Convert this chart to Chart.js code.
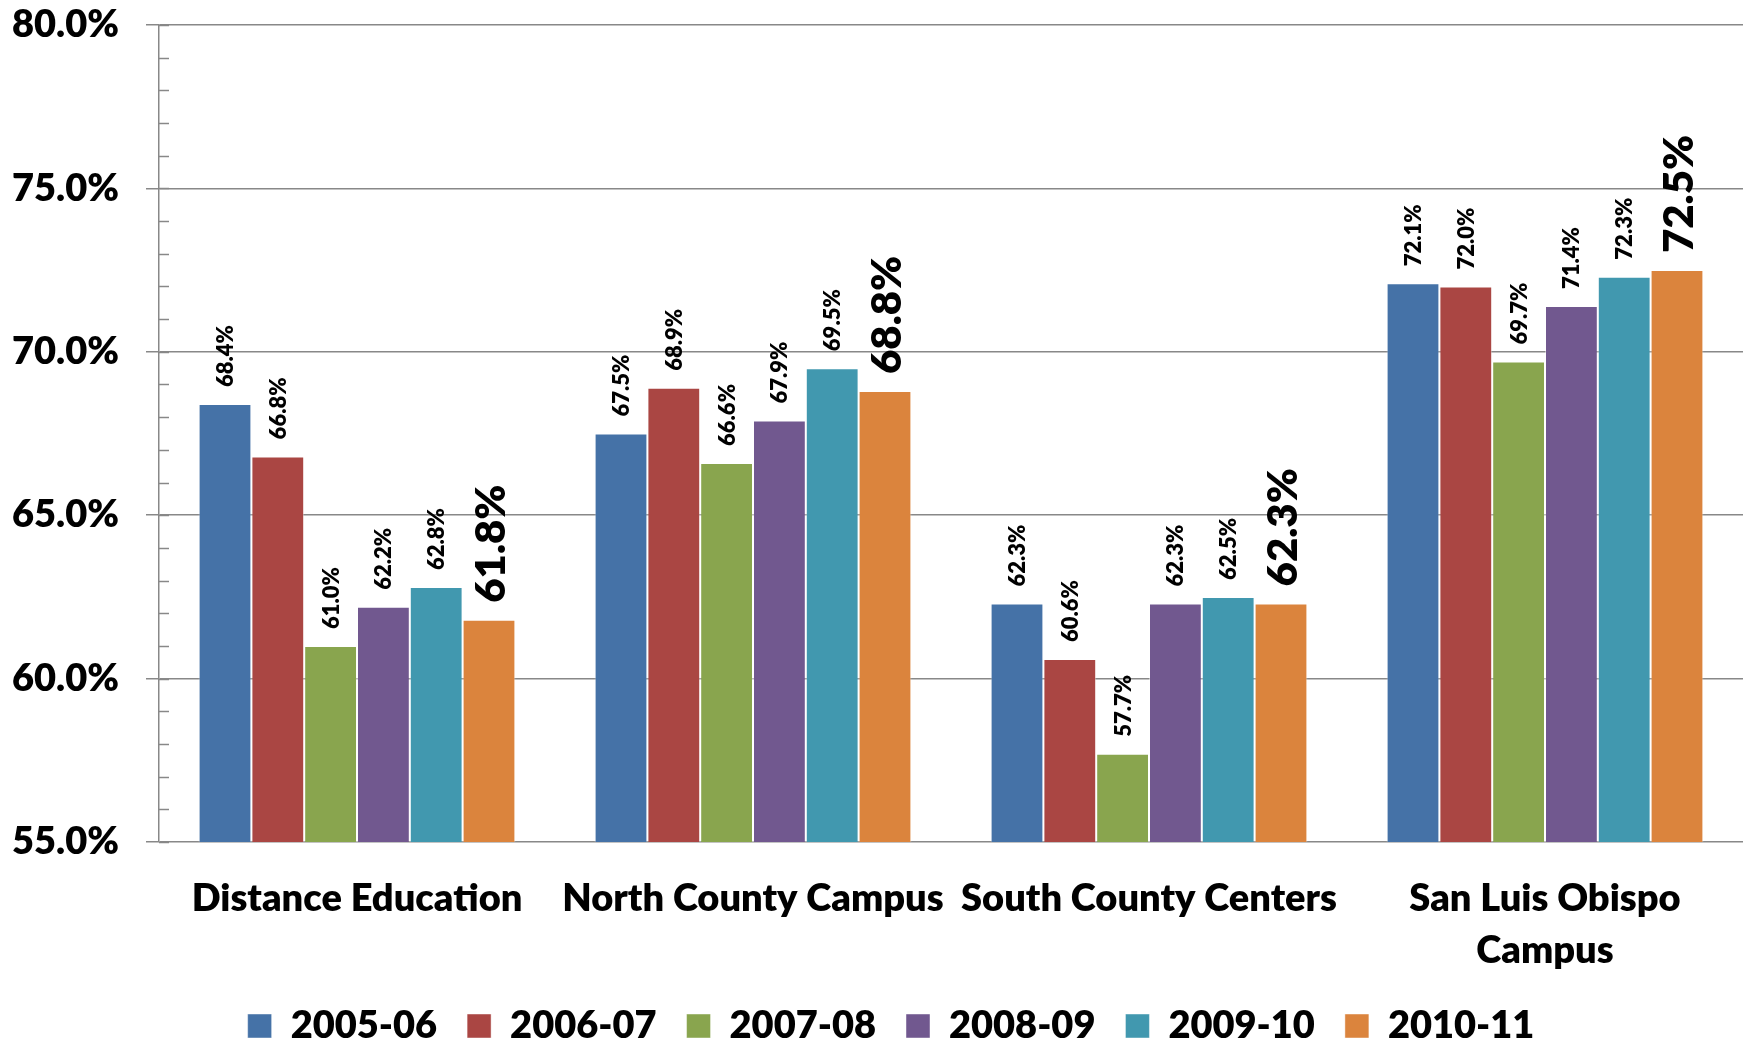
<!DOCTYPE html>
<html>
<head>
<meta charset="utf-8">
<script src="https://cdn.jsdelivr.net/npm/chart.js@4.4.1/dist/chart.umd.min.js"></script>
<style>
  body { margin: 0; background: #fff; }
  #wrap { width: 1747px; height: 1039px; }
</style>
</head>
<body>
<div id="wrap"><canvas id="myChart" width="1747" height="1039"></canvas></div>
<script>
var campuses = ["Distance Education", "North County Campus", "South County Centers", ["San Luis Obispo", "Campus"]];
var years = ["2005-06", "2006-07", "2007-08", "2008-09", "2009-10", "2010-11"];
var rate0506 = [68.4, 67.5, 62.3, 72.1];
var rate0607 = [66.8, 68.9, 60.6, 72.0];
var rate0708 = [61.0, 66.6, 57.7, 69.7];
var rate0809 = [62.2, 67.9, 62.3, 71.4];
var rate0910 = [62.8, 69.5, 62.5, 72.3];
var rate1011 = [61.8, 68.8, 62.3, 72.5];
var yTicks = [55, 60, 65, 70, 75, 80];

var colors = ['#4572A7', '#AA4643', '#89A54E', '#71588F', '#4198AF', '#DB843D'];
var series = [rate0506, rate0607, rate0708, rate0809, rate0910, rate1011];
var gridGray = '#888888';
var heavy = 800;

// rotated value labels above each bar, last year printed larger
var barLabels = {
    id: 'barLabels',
    afterDatasetsDraw: function(chart) {
        var ctx = chart.ctx;
        var last = chart.data.datasets.length - 1;
        chart.data.datasets.forEach(function(ds, i) {
            var meta = chart.getDatasetMeta(i);
            meta.data.forEach(function(bar, j) {
                ctx.save();
                ctx.translate(bar.x + (i === last ? 2 : 1), bar.y - 17);
                ctx.rotate(-Math.PI / 2);
                ctx.font = heavy + ' ' + (i === last ? 42 : 22) + 'px Lato';
                ctx.fillStyle = '#000';
                ctx.textAlign = 'left';
                ctx.textBaseline = 'middle';
                ctx.fillText(ds.data[j].toFixed(1) + '%', 0, 0);
                ctx.restore();
            });
        });
    }
};

// small tick marks every 1% on the inner side of the value axis
var minorTicks = {
    id: 'minorTicks',
    afterDraw: function(chart) {
        var y = chart.scales.y;
        var ctx = chart.ctx;
        ctx.save();
        ctx.strokeStyle = gridGray;
        ctx.lineWidth = 1.5;
        for (var v = y.min; v <= y.max; v++) {
            var py = Math.round(y.getPixelForValue(v)) + 0.5;
            ctx.beginPath();
            ctx.moveTo(y.right, py);
            ctx.lineTo(y.right + 10, py);
            ctx.stroke();
        }
        ctx.restore();
    }
};

// legend sits a little right of the canvas centre in the original
var legendShift = {
    id: 'legendShift',
    afterLayout: function(chart) {
        chart.legend.left += 14;
        chart.legend.right += 14;
    }
};

var config = {
    type: 'bar',
    data: {
        labels: campuses,
        datasets: years.map(function(yr, i) {
            return {
                label: yr,
                data: series[i],
                backgroundColor: colors[i],
                borderColor: 'rgba(255,255,255,0.45)',
                borderWidth: 1,
                barPercentage: 1.0,
                categoryPercentage: 0.8
            };
        })
    },
    options: {
        responsive: false,
        devicePixelRatio: 1,
        animation: false,
        layout: { padding: { left: 11, right: 4, top: 25, bottom: -16 } },
        plugins: {
            tooltip: { enabled: false },
            legend: {
                position: 'bottom',
                labels: {
                    boxWidth: 24,
                    boxHeight: 24,
                    padding: 30,
                    color: '#000',
                    font: { family: 'Lato', size: 38, weight: heavy }
                }
            }
        },
        scales: {
            x: {
                grid: { display: false },
                border: { display: false },
                afterFit: function(scale) { scale.height = 135; },
                ticks: {
                    autoSkip: false,
                    maxRotation: 0,
                    padding: 23,
                    color: '#000',
                    font: { family: 'Lato', size: 38, weight: heavy, lineHeight: 1.37 }
                }
            },
            y: {
                min: yTicks[0],
                max: yTicks[yTicks.length - 1],
                afterFit: function(scale) {
                    scale.width = 148;
                    scale.paddingTop = 0;
                    scale.paddingBottom = 0;
                },
                ticks: {
                    stepSize: yTicks[1] - yTicks[0],
                    padding: 27,
                    color: '#000',
                    font: { family: 'Lato', size: 38, weight: heavy },
                    callback: function(v) { return v.toFixed(1) + '%'; }
                },
                grid: { color: gridGray, lineWidth: 1.5, tickLength: 13, tickColor: gridGray },
                border: { color: gridGray, width: 1.5 }
            }
        }
    },
    plugins: [barLabels, minorTicks, legendShift]
};

window.onload = function() {
    var ctx = document.getElementById("myChart");
    var draw = function() { window.myBar = new Chart(ctx, config); };
    if (document.fonts && document.fonts.load) {
        Promise.all([document.fonts.load(heavy + ' 38px Lato'), document.fonts.load(heavy + ' 22px Lato')]).then(draw, draw);
    } else {
        draw();
    }
};
</script>
</body>
</html>
